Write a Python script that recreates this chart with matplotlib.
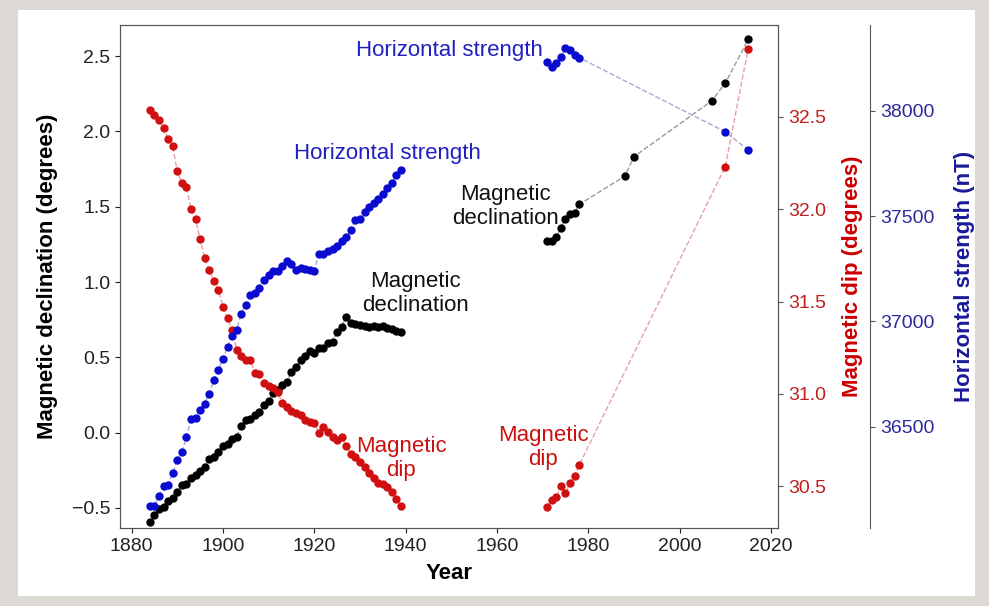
import matplotlib
matplotlib.use("Agg")
from matplotlib import pyplot as plt
from matplotlib.patches import Rectangle

plt.rcParams["font.family"] = ["Liberation Sans", "DejaVu Sans"]

# early record, yearly 1884-1939
years_early = list(range(1884, 1940))
decl_early = [-0.594, -0.549, -0.505, -0.494, -0.456, -0.434, -0.394, -0.35, -0.339, -0.301,
              -0.279, -0.256, -0.228, -0.172, -0.161, -0.128, -0.088, -0.073, -0.039, -0.028,
              0.045, 0.083, 0.09, 0.116, 0.134, 0.183, 0.21, 0.26, 0.283, 0.316,
              0.338, 0.405, 0.438, 0.48, 0.51, 0.54, 0.527, 0.56, 0.565, 0.593,
              0.604, 0.671, 0.704, 0.771, 0.726, 0.72, 0.716, 0.711, 0.704, 0.711,
              0.70, 0.709, 0.698, 0.689, 0.678, 0.666]
dip_early = [32.539, 32.507, 32.48, 32.44, 32.38, 32.34, 32.204, 32.143, 32.118, 31.999,
             31.945, 31.837, 31.736, 31.669, 31.611, 31.565, 31.471, 31.411, 31.345, 31.24,
             31.206, 31.186, 31.183, 31.114, 31.107, 31.057, 31.044, 31.03, 31.01, 30.949,
             30.93, 30.909, 30.895, 30.886, 30.862, 30.847, 30.844, 30.79, 30.822, 30.795,
             30.768, 30.75, 30.768, 30.718, 30.678, 30.66, 30.633, 30.606, 30.573, 30.543,
             30.52, 30.511, 30.498, 30.471, 30.43, 30.395]
h_early = [36125, 36125, 36173, 36217, 36225, 36280, 36340, 36378, 36451, 36538,
           36541, 36581, 36609, 36657, 36720, 36771, 36823, 36880, 36929, 36960,
           37036, 37079, 37126, 37137, 37158, 37198, 37218, 37237, 37237, 37264,
           37289, 37274, 37245, 37253, 37250, 37245, 37240, 37321, 37321, 37332,
           37343, 37356, 37380, 37400, 37435, 37479, 37486, 37517, 37543, 37562,
           37582, 37606, 37633, 37659, 37696, 37720]

# later record
years_decl_late = [1971, 1972, 1973, 1974, 1975, 1976, 1977, 1978, 1988, 1990, 2007, 2010, 2015]
decl_late = [1.27, 1.27, 1.299, 1.359, 1.421, 1.452, 1.457, 1.515, 1.703, 1.832, 2.202, 2.32, 2.61]
years_late = [1971, 1972, 1973, 1974, 1975, 1976, 1977, 1978, 2010, 2015]
dip_late = [30.39, 30.426, 30.441, 30.502, 30.465, 30.516, 30.559, 30.615, 32.23, 32.866]
h_late = [38233, 38210, 38226, 38254, 38297, 38289, 38265, 38252, 37900, 37814]

c_decl = "black"
c_dip = "#d01010"
c_h = "#0a0ad0"

fig = plt.figure(figsize=(9.89, 6.06), dpi=100, facecolor="#dcd9d4")
fig.patches.append(Rectangle((18 / 989, 10 / 606), 957 / 989, 586 / 606,
                             transform=fig.transFigure, facecolor="white",
                             edgecolor="none", zorder=-10))

ax = fig.add_axes([0.1213, 0.1287, 0.6654, 0.83])
ax.set_facecolor("white")
ax2 = ax.twinx()
ax3 = ax.twinx()
ax3.spines["right"].set_position(("axes", 1.14))


def draw(a, x, y, c, lc):
    a.plot(x, y, "--", color=lc, lw=1, zorder=2)
    a.plot(x, y, "o", color=c, ms=5, zorder=3)


draw(ax, years_early, decl_early, c_decl, "#999999")
draw(ax, years_decl_late, decl_late, c_decl, "#999999")
draw(ax2, years_early, dip_early, c_dip, "#e8a0a0")
draw(ax2, years_late, dip_late, c_dip, "#e8a0a0")
draw(ax3, years_early, h_early, c_h, "#a8a8d8")
draw(ax3, years_late, h_late, c_h, "#a8a8d8")

ax.set_xlim(1877.45, 2021.55)
ax.set_ylim(-0.633, 2.706)
ax2.set_ylim(30.275, 32.996)
ax3.set_ylim(36019, 38407)

ax.set_xticks(range(1880, 2021, 20))
ax.set_yticks([-0.5, 0.0, 0.5, 1.0, 1.5, 2.0, 2.5])
ax.set_yticklabels(["\u22120.5", "0.0", "0.5", "1.0", "1.5", "2.0", "2.5"])
ax2.set_yticks([30.5, 31.0, 31.5, 32.0, 32.5])
ax3.set_yticks([36500, 37000, 37500, 38000])

ax.tick_params(labelsize=14, colors="#222222")
ax2.tick_params(labelsize=14, colors="#c02020")
ax3.tick_params(labelsize=14, colors="#2a2a9a")
ax2.tick_params(axis="y", color="#555555")
ax3.tick_params(axis="y", color="#555555")

for a in (ax, ax2):
    for s in a.spines.values():
        s.set_color("#555555")
for name in ("top", "left", "bottom"):
    ax3.spines[name].set_visible(False)
ax3.spines["right"].set_color("#555555")

ax.set_xlabel("Year", fontsize=16, fontweight="bold", labelpad=6)
ax.set_ylabel("Magnetic declination (degrees)", fontsize=16, fontweight="bold", labelpad=10)
ax2.set_ylabel("Magnetic dip (degrees)", fontsize=16, fontweight="bold", color="#cc0000", labelpad=12)
ax3.set_ylabel("Horizontal strength (nT)", fontsize=16, fontweight="bold", color="#1a1a99", labelpad=14)

ax.text(1936.1, 1.855, "Horizontal strength", color="#2020c0", fontsize=16, ha="center", va="center")
ax.text(1942.1, 0.924, "Magnetic\ndeclination", color="#111111", fontsize=16, ha="center", va="center")
ax.text(1939.0, -0.174, "Magnetic\ndip", color="#cc1010", fontsize=16, ha="center", va="center")
ax.text(1949.7, 2.535, "Horizontal strength", color="#2020c0", fontsize=16, ha="center", va="center")
ax.text(1961.8, 1.503, "Magnetic\ndeclination", color="#111111", fontsize=16, ha="center", va="center")
ax.text(1970.1, -0.1, "Magnetic\ndip", color="#cc1010", fontsize=16, ha="center", va="center")

fig.savefig("out.png", dpi=100, facecolor=fig.get_facecolor())
